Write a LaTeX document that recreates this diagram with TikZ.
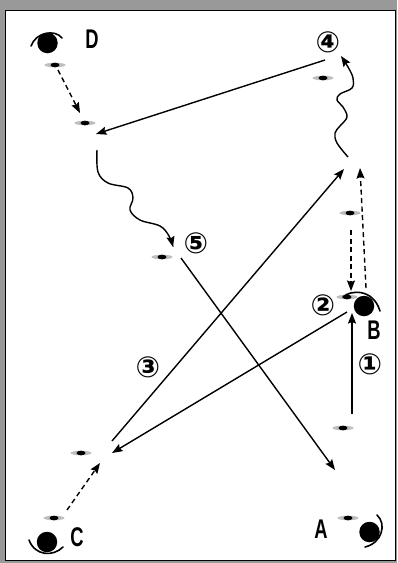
\documentclass[tikz,border=0pt]{standalone}
\usepackage{fontspec}
\setmainfont{Liberation Sans}
\newfontfamily\circfont{DejaVu Sans}
\usetikzlibrary{arrows.meta}
\definecolor{framegray}{gray}{0.6}
\definecolor{halo}{gray}{0.75}
\tikzset{
  conn/.style={line width=1.4pt, -{Stealth[length=10.5pt,width=8pt,inset=1.5pt]}},
  dashconn/.style={conn, dash pattern=on 5pt off 3.5pt},
  marker/.style={minimum width=0pt, inner sep=0pt, outer sep=0pt,
    path picture={
      \fill[halo] (path picture bounding box.center) ellipse (10.5pt and 2.3pt);
      \fill[black] (path picture bounding box.center) ellipse (4.5pt and 2.3pt);
    }, minimum width=22pt, minimum height=5pt},
  ball/.style={circle, fill=black, minimum size=20.5pt, inner sep=0pt},
  headarc/.style={line width=1.6pt, line cap=round},
  letter/.style={font=\fontsize{27}{27}\selectfont\bfseries, inner sep=0pt},
  num/.style={font=\circfont\bfseries\fontsize{29}{29}\selectfont, inner sep=0pt},
}
\newcommand{\cond}[1]{\scalebox{0.68}[1]{#1}}
\begin{document}
\begin{tikzpicture}[x=1pt, y=-1pt]
\useasboundingbox (0,0) rectangle (397,563);
\fill[framegray] (0,0) rectangle (397,563);
\draw[fill=white, line width=1.5pt] (5.5,10.5) rectangle (395.5,560.5);

% markers
\node[marker] (m1) at (55,65) {};
\node[marker] (m2) at (85,123) {};
\node[marker] (m3) at (323,78) {};
\node[marker] (m4) at (162,257) {};
\node[marker] (m5) at (350,213) {};
\node[marker] (m6) at (347,297) {};
\node[marker] (m7) at (343,428) {};
\node[marker] (m8) at (81,453) {};
\node[marker] (m9) at (54,518) {};
\node[marker] (m10) at (348,518) {};

% players
\node[ball] (pD) at (47.5,43) {};
\draw[headarc] (31,46) .. controls (36,32) and (55,29) .. (62,38);
\node[ball] (pC) at (47,542) {};
\draw[headarc] (29,540) .. controls (35,556) and (53,557) .. (63,547);
\node[ball] (pA) at (369.5,532) {};
\draw[headarc] (377,515) .. controls (387,524) and (382,543) .. (365,547);
\node[ball] (pB) at (364,306) {};
\draw[headarc] (343,297) .. controls (350,290) and (373,288) .. (380,311);

% letters
\node[letter] (lD) at (92,39) {\cond{D}};
\node[letter] (lB) at (374,330) {\cond{B}};
\node[letter] (lA) at (321,529) {\cond{A}};
\node[letter] (lC) at (77,537) {\cond{C}};

% numbers
\node[num] (n1) at (370,364) {①};
\node[num] (n2) at (323,305) {②};
\node[num] (n3) at (148,367) {③};
\node[num] (n4) at (328,42) {④};
\node[num] (n5) at (196,243) {⑤};

% connector end points
\coordinate (a1s) at (58,70);   \coordinate (a1e) at (80,113);
\coordinate (a2s) at (325,60);  \coordinate (a2e) at (96,134);
\coordinate (a3s) at (181,258); \coordinate (a3e) at (335,470);
\coordinate (a4s) at (351,230); \coordinate (a4e) at (351,291);
\coordinate (a5s) at (366,288); \coordinate (a5e) at (360,168);
\coordinate (a6s) at (352,414); \coordinate (a6e) at (352,313);
\coordinate (a7s) at (347,312); \coordinate (a7e) at (112,453);
\coordinate (a8s) at (112,441); \coordinate (a8e) at (344,169);
\coordinate (a9s) at (67,510);  \coordinate (a9e) at (100,463);

\draw[dashconn] (a1s) -- (a1e);
\draw[conn] (a2s) -- (a2e);
\draw[conn] (a3s) -- (a3e);
\draw[dashconn] (a4s) -- (a4e);
\draw[dashconn] (a5s) -- (a5e);
\draw[conn] (a6s) -- (a6e);
\draw[conn] (a7s) -- (a7e);
\draw[conn] (a8s) -- (a8e);
\draw[dashconn] (a9s) -- (a9e);

% wavy runs
\draw[conn] plot[smooth, tension=0.6] coordinates {(97,150) (98,172) (108,183) (128,188) (133,198) (130,210) (140,220) (160,226) (169,236) (173,247)};
\draw[conn] plot[smooth, tension=0.6] coordinates {(348,157) (337,143) (335,133) (340,126) (347,117) (343,107) (337,100) (340,94) (352,88) (353,78) (348,67) (341,56)};
\end{tikzpicture}
\end{document}
